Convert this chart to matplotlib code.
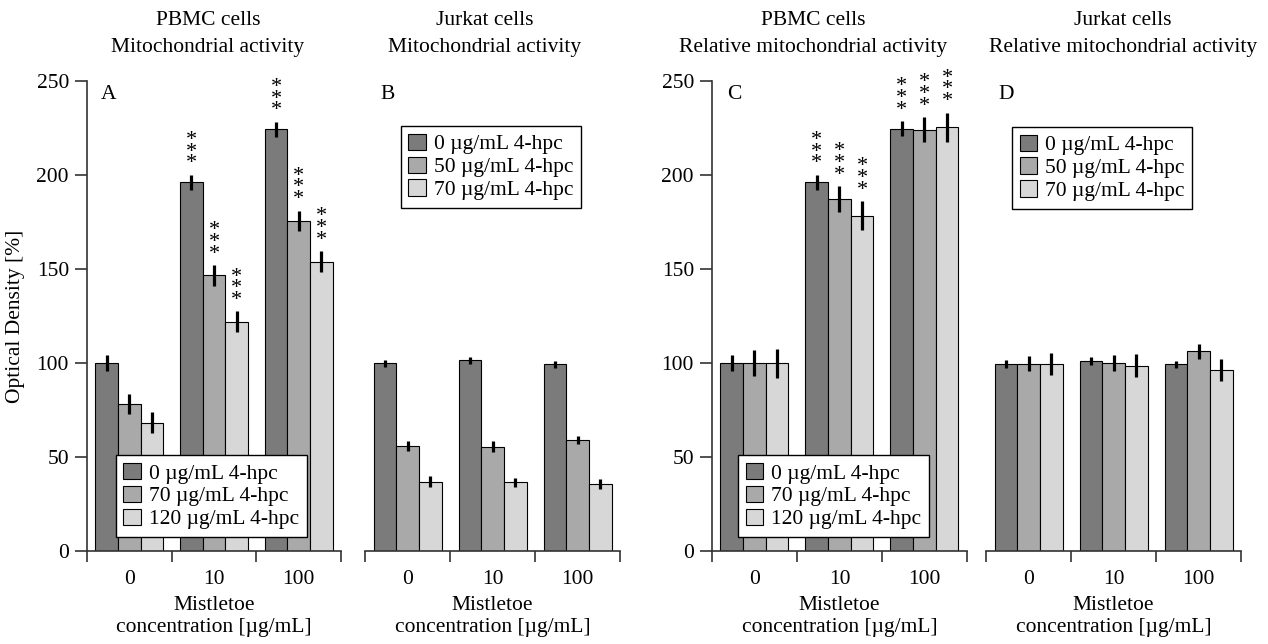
import numpy as np
import matplotlib
matplotlib.use("Agg")
import matplotlib.pyplot as plt

plt.rcParams['font.family'] = ['Liberation Serif', 'DejaVu Serif']
plt.rcParams['font.size'] = 15.5

# data
groups = ['0', '10', '100']

a_vals = [[100, 196.1, 224.3], [78.2, 146.6, 175.7], [68.3, 122.0, 153.9]]
a_errs = [[4.0, 4.0, 4.0], [5.3, 5.5, 5.4], [5.7, 5.4, 5.6]]
a_stars = [[False, True, True], [False, True, True], [False, True, True]]

b_vals = [[99.8, 101.4, 99.3], [55.7, 55.5, 59.0], [36.9, 36.5, 35.5]]
b_errs = [[2.0, 2.0, 2.0], [2.7, 2.8, 2.0], [2.8, 2.5, 2.7]]

c_vals = [[100, 196.1, 224.6], [100, 187.2, 224.1], [99.8, 178.4, 225.4]]
c_errs = [[4.3, 4.1, 4.0], [6.8, 6.8, 6.8], [7.8, 7.8, 7.8]]
c_stars = [[False, True, True], [False, True, True], [False, True, True]]

d_vals = [[99.6, 101.2, 99.3], [99.6, 100.2, 106.2], [99.6, 98.6, 96.3]]
d_errs = [[2.0, 2.0, 2.0], [4.0, 4.3, 4.1], [5.8, 6.0, 5.8]]

pbmc_labels = ['0 µg/mL 4-hpc', '70 µg/mL 4-hpc', '120 µg/mL 4-hpc']
jurkat_labels = ['0 µg/mL 4-hpc', '50 µg/mL 4-hpc', '70 µg/mL 4-hpc']

colors = ['#7b7b7b', '#a9a9a9', '#d7d7d7']

W, H = 1268, 644
fig = plt.figure(figsize=(W / 100, H / 100), dpi=100)


def px_axes(left, right):
    return fig.add_axes([left / W, 1 - 551 / H, (right - left) / W, 470 / H])


def draw_panel(ax, vals, errs, labels, stars=None, yaxis=True):
    x = np.arange(len(groups))
    w = 0.8 / 3
    for i in range(3):
        xs = x + (i - 1) * w
        ax.bar(xs, vals[i], w, color=colors[i], edgecolor='black',
               linewidth=0.8, label=labels[i], zorder=2)
        ax.errorbar(xs, vals[i], yerr=errs[i], fmt='none', ecolor='black',
                    elinewidth=2.3, capsize=0, zorder=3)
        if stars is not None:
            for j in range(len(groups)):
                if stars[i][j]:
                    ax.annotate('*\n*\n*', (xs[j], vals[i][j] + errs[i][j]),
                                xytext=(0, 1), textcoords='offset points',
                                ha='center', va='bottom', fontsize=16,
                                linespacing=0.48, zorder=4)
    ax.set_xlim(-0.5, 2.5)
    ax.set_ylim(0, 250)
    ax.set_xticks(x)
    ax.set_xticklabels(groups)
    ax.set_xticks([-0.5, 0.5, 1.5, 2.5], minor=True)
    ax.tick_params(axis='x', which='major', length=0, pad=14)
    ax.tick_params(axis='x', which='minor', length=8, width=1.2,
                   color='#333333', direction='out')
    ax.spines['top'].set_visible(False)
    ax.spines['right'].set_visible(False)
    ax.spines['bottom'].set_color('#333333')
    ax.spines['bottom'].set_linewidth(1.2)
    if yaxis:
        ax.set_yticks([0, 50, 100, 150, 200, 250])
        ax.spines['left'].set_color('#333333')
        ax.spines['left'].set_linewidth(1.2)
        ax.tick_params(axis='y', length=9, width=1.2, color='#333333', pad=4)
    else:
        ax.spines['left'].set_visible(False)
        ax.set_yticks([])
    ax.set_xlabel('Mistletoe\nconcentration [µg/mL]', linespacing=1.22,
                  labelpad=5)


axA = px_axes(87, 341)
axB = px_axes(365, 620)
axC = px_axes(712, 967)
axD = px_axes(986, 1241)

draw_panel(axA, a_vals, a_errs, pbmc_labels, stars=a_stars)
draw_panel(axB, b_vals, b_errs, jurkat_labels, yaxis=False)
draw_panel(axC, c_vals, c_errs, pbmc_labels, stars=c_stars)
draw_panel(axD, d_vals, d_errs, jurkat_labels, yaxis=False)

axA.set_ylabel('Optical Density [%]', labelpad=8)

leg_kw = dict(fancybox=False, edgecolor='black', framealpha=1,
              borderaxespad=0, handlelength=0.8, handleheight=0.8,
              handletextpad=0.4, labelspacing=0.1, borderpad=0.35,
              fontsize=15.5)
axA.legend(loc='lower left', bbox_to_anchor=(0.114, 0.03), **leg_kw).get_frame().set_linewidth(1.0)
axB.legend(loc='upper left', bbox_to_anchor=(0.141, 0.904), **leg_kw).get_frame().set_linewidth(1.0)
axC.legend(loc='lower left', bbox_to_anchor=(0.102, 0.03), **leg_kw).get_frame().set_linewidth(1.0)
axD.legend(loc='upper left', bbox_to_anchor=(0.102, 0.902), **leg_kw).get_frame().set_linewidth(1.0)

for ax, letter, lx in [(axA, 'A', 0.055), (axB, 'B', 0.059),
                       (axC, 'C', 0.059), (axD, 'D', 0.047)]:
    ax.text(lx, 0.972, letter, transform=ax.transAxes, ha='left', va='center')

titles = [(208, 'PBMC cells\nMitochondrial activity'),
          (485, 'Jurkat cells\nMitochondrial activity'),
          (813, 'PBMC cells\nRelative mitochondrial activity'),
          (1123, 'Jurkat cells\nRelative mitochondrial activity')]
for tx, t in titles:
    fig.text(tx / W, 1 - 11 / H, t, ha='center', va='top', linespacing=1.55)

fig.savefig('out.png', dpi=100)
